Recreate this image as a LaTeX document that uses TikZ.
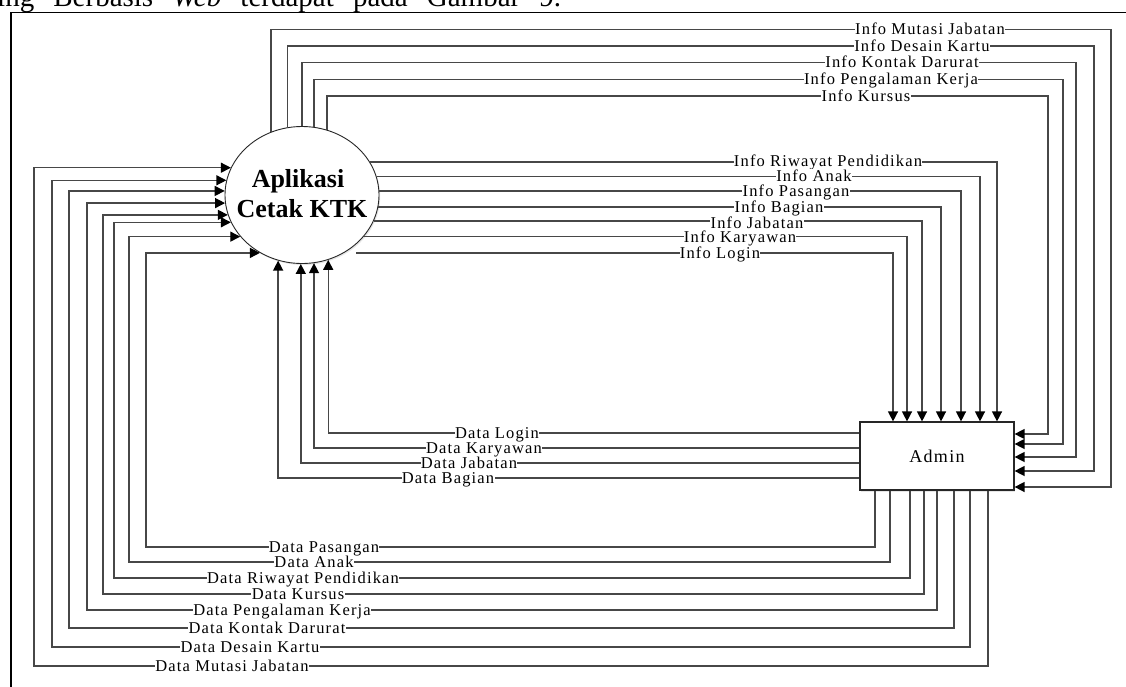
\documentclass[tikz,border=0pt]{standalone}
\usepackage{fontspec}
\setmainfont{Liberation Serif}
\newfontfamily\lblfont[LetterSpace=7]{Liberation Serif}
\usetikzlibrary{arrows.meta,shapes.geometric,shadows}
\tikzset{
  conn/.style={line width=1.4pt, draw=black!72},
  arr/.style={conn, -{Triangle[length=10pt,width=10pt,color=black]}},
  lbl/.style={font=\lblfont\fontsize{16.5}{16.5}\selectfont, fill=white, inner xsep=0.3pt, inner ysep=0pt, anchor=base, text=black},
  procnode/.style={draw=black!85, line width=0.9pt, ellipse, minimum width=154pt, minimum height=137pt, inner sep=0pt, fill=white, drop shadow={opacity=0.2, shadow xshift=1.2pt, shadow yshift=-1.5pt}},
  entnode/.style={draw=black!85, line width=1.2pt, minimum width=154pt, minimum height=68pt, fill=white, font=\lblfont\fontsize{18}{18}\selectfont, drop shadow={opacity=0.2, shadow xshift=1.2pt, shadow yshift=-1.5pt}},
  titletext/.style={font=\bfseries\fontsize{26}{30}\selectfont, inner sep=0pt, anchor=base},
}
\begin{document}
\begin{tikzpicture}[x=1pt,y=-1pt]
\useasboundingbox (0,0) rectangle (1126,686);
% cut-off body text above the figure
\node[anchor=base west, inner sep=0pt, font=\fontsize{29}{29}\selectfont] (toptext) at (-3,6.5) {\makebox[564pt][s]{ing Berbasis \textit{Web} terdapat pada Gambar 9.}};
% frame
\draw[line width=1.4pt] (11,700) -- (11,12.7) -- (1140,12.7);

% nodes
\node[procnode] (c) at (302,195) {};
\node[titletext] (ct1) at (298,187) {Aplikasi};
\node[titletext] (ct2) at (302,217) {Cetak KTK};
\node[entnode] (admin) at (937,456) {Admin};

% Info flows: process -> Admin top
\draw[arr] (c.26.9) -| ([xshift=60pt]admin.north);
\draw[arr] (c.14.4) -| ([xshift=43pt]admin.north);
\draw[arr] (c.3.0) -| ([xshift=24pt]admin.north);
\draw[arr] (c.-9.8) -| ([xshift=4pt]admin.north);
\draw[arr] (c.-20.8) -| ([xshift=-15pt]admin.north);
\draw[arr] (c.-34.5) -| ([xshift=-30pt]admin.north);
\draw[arr, shorten <=12pt] (c.-54.3) -| ([xshift=-44pt]admin.north);

% Info flows: process top -> Admin right
\draw[arr] (c.116.1) |- (1111,29.5) |- ([yshift=-31pt]admin.east);
\draw[arr] (c.102.5) |- (1094,46) |- ([yshift=-15pt]admin.east);
\draw[arr] (c.90.8) |- (1076,62.5) |- ([yshift=-1pt]admin.east);
\draw[arr] (c.80.0) |- (1063,79.5) |- ([yshift=12pt]admin.east);
\draw[arr] (c.69.0) |- (1048,96) |- ([yshift=22pt]admin.east);

% Data flows: Admin left -> process bottom
\draw[arr] ([yshift=23pt]admin.west) -| (c.292.7);
\draw[arr] ([yshift=8pt]admin.west) -| (c.280.8);
\draw[arr] ([yshift=-7pt]admin.west) -| (c.269.2);
\draw[arr] ([yshift=-22pt]admin.west) -| (c.250.8);

% Data flows: Admin bottom -> process left
\draw[arr] ([xshift=-62pt]admin.south) |- (146,547) |- (c.234.3);
\draw[arr] ([xshift=-47pt]admin.south) |- (129,562) |- (c.214.5);
\draw[arr] ([xshift=-27pt]admin.south) |- (114,578) |- (c.201.7);
\draw[arr] ([xshift=-13pt]admin.south) |- (103,594) |- (c.195.2);
\draw[arr] ([xshift=0pt]admin.south) |- (87,610) |- (c.186.7);
\draw[arr] ([xshift=17pt]admin.south) |- (69,628) |- (c.177.8);
\draw[arr] ([xshift=33pt]admin.south) |- (52,647) |- (c.169.5);
\draw[arr] ([xshift=51pt]admin.south) |- (34,666) |- (c.159.2);

% labels
\node[lbl] (li1) at (828,166) {Info Riwayat Pendidikan};
\node[lbl] (li2) at (814,181) {Info Anak};
\node[lbl] (li3) at (796,196) {Info Pasangan};
\node[lbl] (li4) at (779,212) {Info Bagian};
\node[lbl] (li5) at (757,228) {Info Jabatan};
\node[lbl] (li6) at (740,242.5) {Info Karyawan};
\node[lbl] (li7) at (720,258) {Info Login};

\node[lbl] (lt1) at (930,34.5) {Info Mutasi Jabatan};
\node[lbl] (lt2) at (922,51) {Info Desain Kartu};
\node[lbl] (lt3) at (902,67.5) {Info Kontak Darurat};
\node[lbl] (lt4) at (891,84.5) {Info Pengalaman Kerja};
\node[lbl] (lt5) at (866,101) {Info Kursus};

\node[lbl] (ld1) at (497,438) {Data Login};
\node[lbl] (ld2) at (484,453) {Data Karyawan};
\node[lbl] (ld3) at (469,468) {Data Jabatan};
\node[lbl] (ld4) at (448,483) {Data Bagian};

\node[lbl] (lb1) at (324,552) {Data Pasangan};
\node[lbl] (lb2) at (314,567) {Data Anak};
\node[lbl] (lb3) at (303,583) {Data Riwayat Pendidikan};
\node[lbl] (lb4) at (298,599) {Data Kursus};
\node[lbl] (lb5) at (282,615) {Data Pengalaman Kerja};
\node[lbl] (lb6) at (267,633) {Data Kontak Darurat};
\node[lbl] (lb7) at (250,652) {Data Desain Kartu};
\node[lbl] (lb8) at (232,671) {Data Mutasi Jabatan};
\end{tikzpicture}
\end{document}
